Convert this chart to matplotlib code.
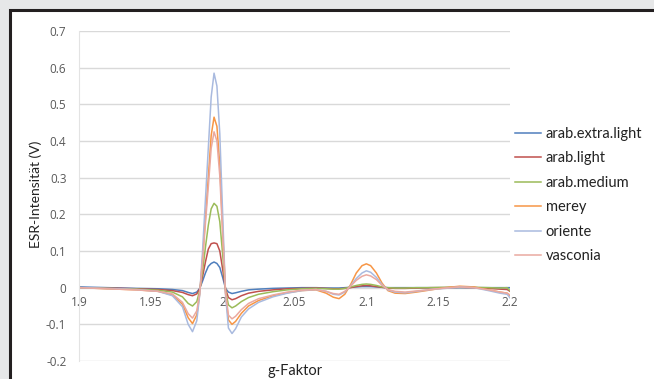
import matplotlib.pyplot as plt
from matplotlib.patches import Rectangle

# g-factor grid shared by all spectra
g = [1.900, 1.920, 1.940, 1.955, 1.965, 1.972, 1.976, 1.979, 1.982, 1.984,
     1.986, 1.988, 1.990, 1.992, 1.994, 1.996, 1.998, 2.000, 2.002, 2.004,
     2.0065, 2.009, 2.013, 2.018, 2.025, 2.035, 2.045, 2.055, 2.065, 2.072,
     2.077, 2.081, 2.085, 2.089, 2.093, 2.097, 2.100, 2.103, 2.107, 2.111,
     2.115, 2.120, 2.127, 2.135, 2.145, 2.155, 2.165, 2.175, 2.185, 2.193,
     2.198, 2.200]

arab_extra_light = [0.002, 0.000, -0.002, -0.003, -0.005, -0.008, -0.013,
                    -0.016, -0.012, -0.002, 0.018, 0.040, 0.058, 0.066, 0.070, 0.066, 0.055, 0.028, -0.002, -0.012, -0.016, -0.014,
                    -0.010, -0.006, -0.004, -0.002, -0.001, 0.000, 0.000, -0.001, -0.001, -0.001,
                    0.000, 0.001, 0.002, 0.003, 0.003, 0.003, 0.002, 0.001, 0.000, 0.000,
                    0.000, 0.000, 0.000, 0.000, 0.000, 0.000, 0.000, 0.000, 0.000, 0.000]

arab_light = [0.000, -0.001, -0.003, -0.005, -0.008, -0.013, -0.019,
              -0.022, -0.017, -0.003, 0.030, 0.070, 0.105, 0.120, 0.122, 0.120, 0.100, 0.050, -0.004, -0.027, -0.033, -0.030,
              -0.022, -0.015, -0.010, -0.006, -0.003, -0.002, -0.001, -0.002, -0.003, -0.003,
              -0.002, 0.000, 0.003, 0.005, 0.006, 0.005, 0.003, 0.001, -0.001, -0.002,
              -0.002, -0.001, 0.000, 0.000, 0.001, 0.000, -0.002, -0.004, -0.005, -0.010]

arab_medium = [0.000, -0.002, -0.004, -0.007, -0.012, -0.025, -0.043,
               -0.050, -0.038, -0.008, 0.045, 0.110, 0.170, 0.215, 0.230, 0.222, 0.180, 0.090, -0.008, -0.047, -0.055, -0.050,
               -0.038, -0.027, -0.018, -0.011, -0.006, -0.003, -0.002, -0.003, -0.004, -0.004,
               -0.002, 0.002, 0.006, 0.009, 0.010, 0.009, 0.006, 0.002, 0.000, -0.001,
               -0.001, 0.000, 0.000, 0.001, 0.001, 0.001, 0.000, -0.001, 0.000, -0.008]

merey = [0.000, -0.003, -0.006, -0.010, -0.020, -0.045, -0.082,
         -0.098, -0.074, -0.018, 0.080, 0.190, 0.300, 0.415, 0.465, 0.440, 0.335, 0.160, -0.015, -0.088, -0.100, -0.092,
         -0.070, -0.050, -0.035, -0.022, -0.014, -0.008, -0.006, -0.015, -0.026, -0.030,
         -0.018, 0.008, 0.040, 0.060, 0.065, 0.060, 0.040, 0.012, -0.008, -0.015,
         -0.016, -0.012, -0.006, 0.000, 0.004, 0.002, -0.006, -0.012, -0.015, -0.022]

oriente = [0.000, -0.002, -0.005, -0.010, -0.022, -0.052, -0.100,
           -0.120, -0.090, -0.020, 0.100, 0.240, 0.380, 0.520, 0.585, 0.550, 0.420, 0.200, -0.020, -0.110, -0.125, -0.112,
           -0.080, -0.058, -0.040, -0.025, -0.015, -0.008, -0.005, -0.010, -0.018, -0.020,
           -0.012, 0.005, 0.025, 0.040, 0.046, 0.042, 0.028, 0.008, -0.006, -0.012,
           -0.014, -0.010, -0.005, -0.002, 0.002, 0.000, -0.008, -0.015, -0.018, -0.028]

vasconia = [0.000, -0.003, -0.006, -0.010, -0.017, -0.040, -0.071,
            -0.083, -0.063, -0.015, 0.072, 0.175, 0.275, 0.380, 0.425, 0.400, 0.305, 0.145, -0.013, -0.075, -0.085, -0.078,
            -0.060, -0.043, -0.030, -0.020, -0.012, -0.007, -0.005, -0.010, -0.016, -0.018,
            -0.010, 0.004, 0.020, 0.031, 0.035, 0.032, 0.022, 0.006, -0.005, -0.010,
            -0.012, -0.009, -0.005, -0.001, 0.002, 0.000, -0.006, -0.012, -0.015, -0.020]

labels = ['arab.extra.light', 'arab.light', 'arab.medium', 'merey', 'oriente', 'vasconia']
series = [arab_extra_light, arab_light, arab_medium, merey, oriente, vasconia]
colors = ['#4f7fbd', '#c0504d', '#9bbb59', '#f79646', '#a9badf', '#eaa9a0']

x_ticks = [1.9, 1.95, 2.0, 2.05, 2.1, 2.15, 2.2]
x_tick_labels = ['1.9', '1.95', '2', '2.05', '2.1', '2.15', '2.2']
y_ticks = [-0.2, -0.1, 0, 0.1, 0.2, 0.3, 0.4, 0.5, 0.6, 0.7]
y_tick_labels = ['-0.2', '-0.1', '0', '0.1', '0.2', '0.3', '0.4', '0.5', '0.6', '0.7']

W, H = 654, 379
fig = plt.figure(figsize=(W / 100, H / 100), dpi=100)
fig.patch.set_facecolor('#e6e7e8')

# white frame with dark border (top/left visible)
fig.patches.append(Rectangle((10 / W, -0.1), 1.2, 1 - 10 / H + 0.1,
                             transform=fig.transFigure, facecolor='white',
                             edgecolor='#231f20', linewidth=2.2, zorder=-10))

ax = fig.add_axes([79 / W, 1 - 361 / H, (510 - 79) / W, (361 - 31) / H])
ax.set_facecolor('none')

for vals, lab, col in zip(series, labels, colors):
    ax.plot(g, vals, color=col, linewidth=1.1, label=lab)

ax.set_xlim(1.9, 2.2)
ax.set_ylim(-0.2, 0.7)
ax.set_yticks(y_ticks)
ax.set_yticklabels(y_tick_labels)
ax.set_xticks(x_ticks)
ax.set_xticklabels(x_tick_labels)
ax.grid(axis='y', color='#d9d9d9', linewidth=1.0)
ax.set_axisbelow(True)

for s in ['top', 'right']:
    ax.spines[s].set_visible(False)
ax.spines['left'].set_color('#e3e3e3')
ax.spines['left'].set_linewidth(0.8)
ax.spines['bottom'].set_position(('data', 0))
ax.spines['bottom'].set_visible(False)
ax.tick_params(length=0, labelsize=8.5, labelcolor='#595959')
ax.tick_params(axis='y', pad=9)
ax.tick_params(axis='x', pad=6)
for t in ax.get_xticklabels() + ax.get_yticklabels():
    t.set_fontfamily('Open Sans')

fig.text(36 / W, 1 - 194 / H, 'ESR-Intensität (V)', rotation=90,
         ha='center', va='center', fontsize=10, family='Lato', color='#222222')
fig.text(295 / W, 1 - 371 / H, 'g-Faktor', ha='center', va='center',
         fontsize=10.5, family='Lato', color='#222222')

leg = ax.legend(loc='upper left', bbox_to_anchor=(515 / W, 1 - 127 / H),
                bbox_transform=fig.transFigure, frameon=False,
                borderaxespad=0, borderpad=0,
                handlelength=1.8, handletextpad=0.3, labelspacing=0.72,
                prop={'family': 'Lato', 'size': 10.5})
for t in leg.get_texts():
    t.set_color('#222222')

fig.savefig('out.png', dpi=100, facecolor=fig.get_facecolor())
